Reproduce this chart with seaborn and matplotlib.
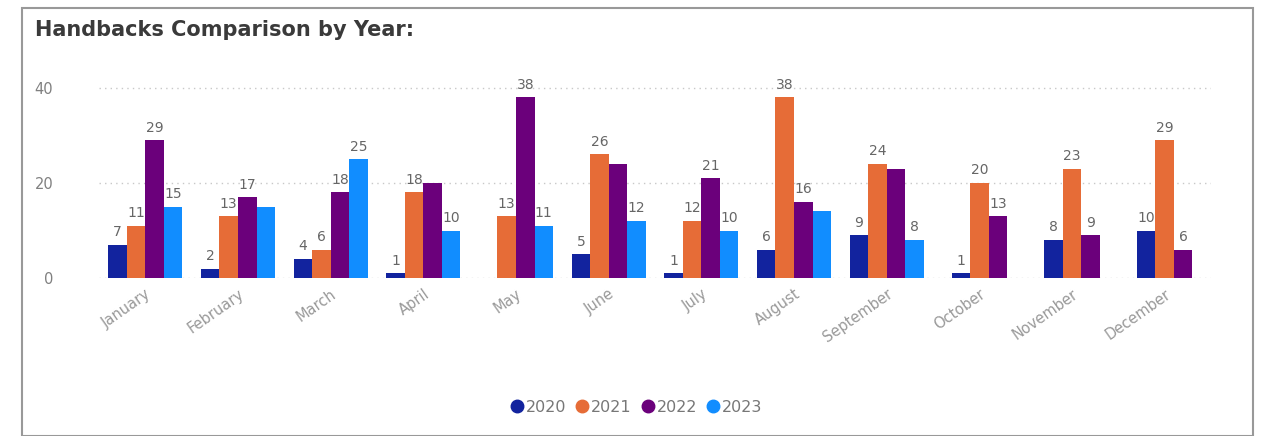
import numpy as np
import pandas as pd
import matplotlib
matplotlib.use("Agg")
import matplotlib.pyplot as plt
from matplotlib.lines import Line2D
from matplotlib.patches import Rectangle
import seaborn as sns

months = ["January", "February", "March", "April", "May", "June", "July",
          "August", "September", "October", "November", "December"]
years = ["2020", "2021", "2022", "2023"]
vals_2020 = [7, 2, 4, 1, np.nan, 5, 1, 6, 9, 1, 8, 10]
vals_2021 = [11, 13, 6, 18, 13, 26, 12, 38, 24, 20, 23, 29]
vals_2022 = [29, 17, 18, 20, 38, 24, 21, 16, 23, 13, 9, 6]
vals_2023 = [15, 15, 25, 10, 11, 12, 10, 14, 8, np.nan, np.nan, np.nan]
# data labels suppressed where they would collide with a neighbour
hidden_labels = {("February", "2023"), ("April", "2022"), ("June", "2022"),
                 ("August", "2023"), ("September", "2022")}

colors = {"2020": "#12239E", "2021": "#E66C37", "2022": "#6B007B", "2023": "#118DFF"}

series = {"2020": vals_2020, "2021": vals_2021, "2022": vals_2022, "2023": vals_2023}
df = pd.DataFrame([(m, y, series[y][i]) for y in years for i, m in enumerate(months)],
                  columns=["Month", "Year", "Handbacks"])

# months that have all four years vs. months where 2023 is not yet present
full_months = [m for i, m in enumerate(months) if not np.isnan(vals_2023[i])]
part_months = [m for m in months if m not in full_months]

fig = plt.figure(figsize=(12.71, 4.36), dpi=100)
ax = fig.add_axes([99 / 1271, 1 - 278 / 436, (1211 - 99) / 1271, (278 - 69) / 436])

sns.barplot(data=df[df["Month"].isin(full_months)], x="Month", y="Handbacks",
            hue="Year", order=months, hue_order=years, palette=colors,
            width=0.8, saturation=1, ax=ax, legend=False, errorbar=None)
sub = df[df["Month"].isin(part_months) & (df["Year"] != "2023")]
sns.barplot(data=sub, x="Month", y="Handbacks",
            hue="Year", order=months, hue_order=years[:3], palette=colors,
            width=0.6, saturation=1, ax=ax, legend=False, errorbar=None)

for cont, yr in zip(ax.containers, years + years[:3]):
    labels = []
    for bar in cont:
        h = bar.get_height()
        idx = int(round(bar.get_x() + bar.get_width() / 2))
        if np.isnan(h) or (months[idx], yr) in hidden_labels:
            labels.append("")
        else:
            labels.append(f"{int(h)}")
    ax.bar_label(cont, labels=labels, padding=4, color="#666666", fontsize=10)

ax.set_ylim(0, 44)
ax.set_xlim(-0.5, 11.5)
ax.set_yticks([0, 20, 40])
ax.set_xlabel("")
ax.set_ylabel("")
for s in ax.spines.values():
    s.set_visible(False)
ax.grid(axis="y", color="#C8C8C8", linestyle=(0, (1, 3)), linewidth=1)
ax.set_axisbelow(True)
ax.tick_params(axis="y", length=0, pad=33, labelcolor="#808080", labelsize=10.5)
ax.tick_params(axis="x", length=0, pad=6, labelcolor="#999999", labelsize=10.5)
plt.setp(ax.get_xticklabels(), rotation=35, ha="right", rotation_mode="anchor")
for lbl in ax.get_xticklabels():
    lbl.set_x(lbl.get_position()[0])

fig.text(35 / 1271, 1 - 30 / 436, "Handbacks Comparison by Year:", fontsize=15,
         color="#3a3a3a", va="center", ha="left", fontweight="semibold")

handles = [Line2D([0], [0], marker="o", linestyle="", markersize=9,
                  markerfacecolor=colors[y], markeredgecolor=colors[y]) for y in years]
fig.legend(handles, years, loc="center", bbox_to_anchor=(0.5, 1 - 407 / 436), ncol=4,
           frameon=False, handletextpad=0.05, columnspacing=0.5, fontsize=11.5,
           labelcolor="#777777", handlelength=1.0)

fig.patches.append(Rectangle((22 / 1271, 0), (1253 - 22) / 1271, (436 - 8) / 436,
                             transform=fig.transFigure, fill=False,
                             edgecolor="#999999", linewidth=1.5))

fig.savefig("out.png", dpi=100, facecolor="white")
